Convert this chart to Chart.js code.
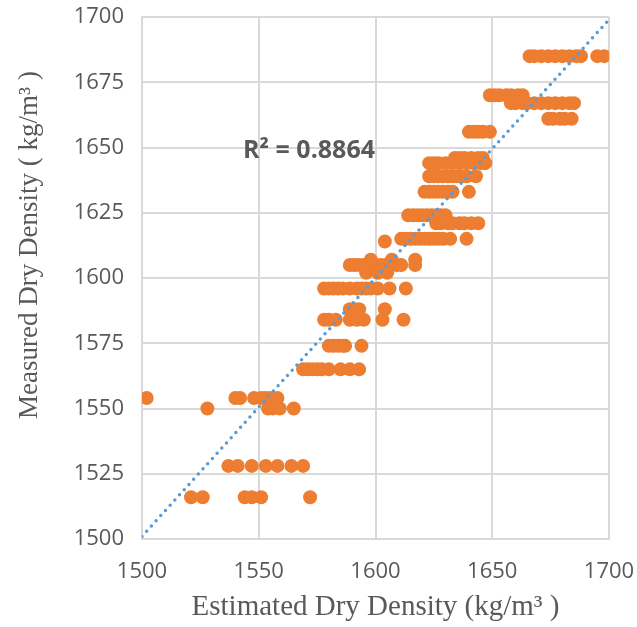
<!DOCTYPE html>
<html>
<head>
<meta charset="utf-8">
<script src="https://cdn.jsdelivr.net/npm/chart.js@4/dist/chart.umd.min.js"></script>
<style>
  html, body { margin: 0; padding: 0; background: #fff; }
  #wrap { width: 637px; height: 627px; }
</style>
</head>
<body>
<div id="wrap"><canvas id="densityChart" width="637" height="627"></canvas></div>
<script>
// 推定値と実測値（同じ行ごとに並べる）
const estimated = [
  1521, 1526, 1544, 1547, 1551, 1572,
  1537, 1541, 1547, 1553, 1558, 1564, 1569,
  1528, 1554, 1556, 1559, 1565,
  1502, 1540, 1542, 1548, 1551, 1553, 1555, 1558,
  1569, 1571, 1573, 1575, 1577, 1580, 1585, 1589, 1593,
  1580, 1582, 1584, 1586, 1587, 1594,
  1578, 1580, 1583, 1589, 1592, 1595, 1603, 1612,
  1589, 1591, 1593, 1604,
  1578, 1580, 1582, 1584, 1586, 1589, 1592, 1594, 1596, 1598, 1601, 1606, 1613,
  1596, 1601, 1605,
  1589, 1591, 1593, 1595, 1597, 1600, 1602, 1604, 1606, 1609, 1611, 1617,
  1598, 1607, 1617,
  1604,
  1611, 1613, 1615, 1617, 1619, 1621, 1623, 1625, 1627, 1629, 1632, 1639,
  1626, 1628, 1631, 1633, 1636, 1638, 1641, 1644,
  1614, 1616, 1618, 1620, 1622, 1624, 1626, 1628, 1630,
  1621, 1623, 1625, 1627, 1629, 1631, 1633, 1640,
  1623, 1625, 1627, 1629, 1631, 1633, 1635, 1637, 1639, 1643,
  1623, 1625, 1627, 1630, 1633, 1636, 1639, 1642, 1645, 1647,
  1634, 1636, 1638, 1641, 1644, 1646,
  1640, 1642, 1644, 1646, 1649,
  1674, 1676, 1679, 1681, 1684,
  1658, 1660, 1663, 1665, 1668, 1671, 1674, 1677, 1680, 1683, 1685,
  1649, 1651, 1653, 1656, 1658, 1661, 1663,
  1666, 1668, 1671, 1674, 1677, 1680, 1683, 1686, 1688, 1695, 1698
];
const measured = [
  1516, 1516, 1516, 1516, 1516, 1516,
  1528, 1528, 1528, 1528, 1528, 1528, 1528,
  1550, 1550, 1550, 1550, 1550,
  1554, 1554, 1554, 1554, 1554, 1554, 1554, 1554,
  1565, 1565, 1565, 1565, 1565, 1565, 1565, 1565, 1565,
  1574, 1574, 1574, 1574, 1574, 1574,
  1584, 1584, 1584, 1584, 1584, 1584, 1584, 1584,
  1588, 1588, 1588, 1588,
  1596, 1596, 1596, 1596, 1596, 1596, 1596, 1596, 1596, 1596, 1596, 1596, 1596,
  1602, 1602, 1602,
  1605, 1605, 1605, 1605, 1605, 1605, 1605, 1605, 1605, 1605, 1605, 1605,
  1607, 1607, 1607,
  1614,
  1615, 1615, 1615, 1615, 1615, 1615, 1615, 1615, 1615, 1615, 1615, 1615,
  1621, 1621, 1621, 1621, 1621, 1621, 1621, 1621,
  1624, 1624, 1624, 1624, 1624, 1624, 1624, 1624, 1624,
  1633, 1633, 1633, 1633, 1633, 1633, 1633, 1633,
  1639, 1639, 1639, 1639, 1639, 1639, 1639, 1639, 1639, 1639,
  1644, 1644, 1644, 1644, 1644, 1644, 1644, 1644, 1644, 1644,
  1646, 1646, 1646, 1646, 1646, 1646,
  1656, 1656, 1656, 1656, 1656,
  1661, 1661, 1661, 1661, 1661,
  1667, 1667, 1667, 1667, 1667, 1667, 1667, 1667, 1667, 1667, 1667,
  1670, 1670, 1670, 1670, 1670, 1670, 1670,
  1685, 1685, 1685, 1685, 1685, 1685, 1685, 1685, 1685, 1685, 1685
];

// 近似直線の両端
const trendX = [1500, 1700];
const trendY = [1501, 1699];
const rSquared = "0.8864";

const xTicks = [1500, 1550, 1600, 1650, 1700];
const yTicks = [1500, 1525, 1550, 1575, 1600, 1625, 1650, 1675, 1700];

const grey = "#595959";
const gridColor = "#d9d9d9";

const points = estimated.map((x, i) => ({ x: x, y: measured[i] }));
const trend = trendX.map((x, i) => ({ x: x, y: trendY[i] }));

const ctx = document.getElementById("densityChart").getContext("2d");

new Chart(ctx, {
  type: "scatter",
  data: {
    datasets: [
      {
        data: points,
        backgroundColor: "#ED7D31",
        borderWidth: 0,
        pointRadius: 7,
        pointHoverRadius: 7,
        order: 1,
      },
      {
        type: "line",
        data: trend,
        borderColor: "#5B9BD5",
        borderWidth: 3.5,
        borderDash: [0, 7],
        borderCapStyle: "round",
        pointRadius: 0,
        fill: false,
        order: 0,
      },
    ],
  },
  options: {
    responsive: false,
    animation: false,
    layout: { padding: { left: 0, right: 28, top: 17, bottom: 0 } },
    plugins: {
      legend: { display: false },
      tooltip: { enabled: false },
    },
    scales: {
      x: {
        type: "linear",
        min: 1500,
        max: 1700,
        afterBuildTicks: (scale) => {
          scale.ticks = xTicks.map((v) => ({ value: v }));
        },
        afterFit: (scale) => {
          scale.height = 88;
          scale.paddingLeft = 0;
          scale.paddingRight = 0;
        },
        ticks: {
          color: grey,
          font: { family: "'Open Sans'", size: 22 },
          padding: 20,
          callback: (v) => String(v),
        },
        grid: { color: gridColor, lineWidth: 2, drawTicks: false },
        border: { color: gridColor, width: 2 },
        title: {
          display: true,
          text: "Estimated Dry Density (kg/m³ )",
          color: grey,
          font: { family: "'Liberation Serif'", size: 29 },
          padding: { top: 0, bottom: 2 },
        },
      },
      y: {
        type: "linear",
        min: 1500,
        max: 1700,
        afterBuildTicks: (scale) => {
          scale.ticks = yTicks.map((v) => ({ value: v }));
        },
        afterFit: (scale) => {
          scale.width = 142;
          scale.paddingTop = 0;
          scale.paddingBottom = 0;
        },
        ticks: {
          color: grey,
          font: { family: "'Open Sans'", size: 22 },
          padding: 18,
          callback: (v) => String(v),
        },
        grid: { color: gridColor, lineWidth: 2, drawTicks: false },
        border: { color: gridColor, width: 2 },
      },
    },
  },
  plugins: [
    {
      id: "extraText",
      afterDraw(chart) {
        const { ctx, scales } = chart;
        ctx.save();
        // 縦軸タイトル
        ctx.fillStyle = grey;
        ctx.font = "27px 'Liberation Serif'";
        ctx.textAlign = "center";
        ctx.textBaseline = "middle";
        ctx.translate(30, 245);
        ctx.rotate(-Math.PI / 2);
        ctx.fillText("Measured Dry Density ( kg/m³ )", 0, 0);
        ctx.restore();

        // 決定係数
        const px = scales.x.getPixelForValue(1543.3);
        const py = scales.y.getPixelForValue(1648.8);
        ctx.save();
        ctx.fillStyle = grey;
        ctx.font = "bold 25px 'Open Sans'";
        ctx.textAlign = "left";
        ctx.textBaseline = "middle";
        ctx.fillText("R² = " + rSquared, px, py);
        ctx.restore();
      },
    },
  ],
});
</script>
</body>
</html>
